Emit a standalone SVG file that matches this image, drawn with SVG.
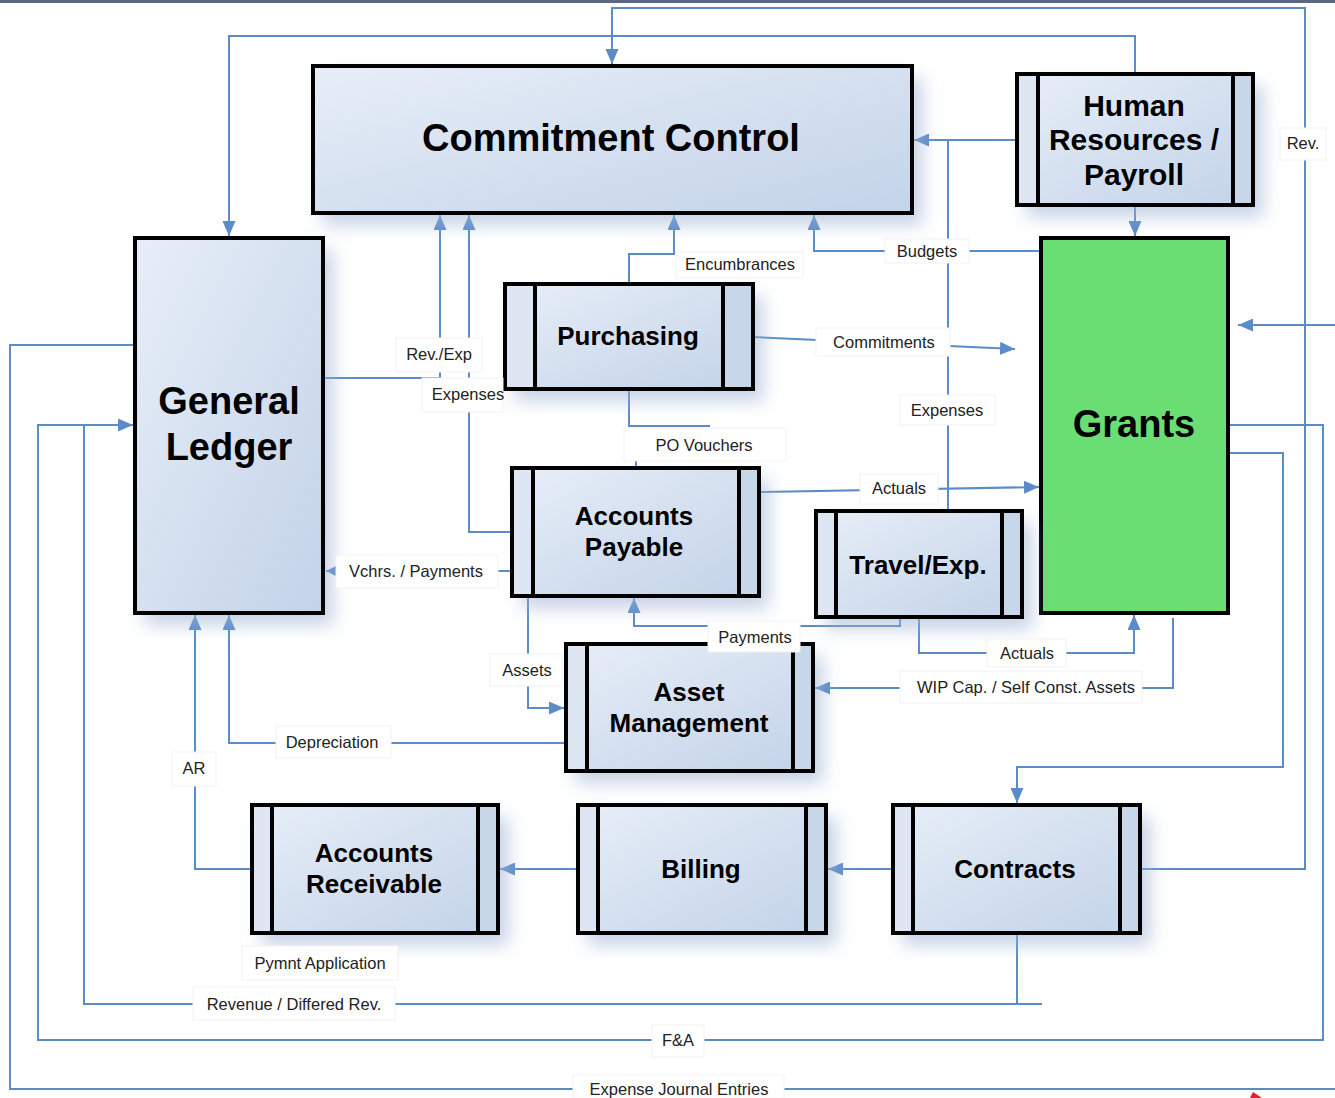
<svg xmlns="http://www.w3.org/2000/svg" width="1335" height="1098" viewBox="0 0 1335 1098">
<defs>
<linearGradient id="gb" x1="0" y1="0" x2="1" y2="1">
<stop offset="0" stop-color="#e7eef8"/>
<stop offset="1" stop-color="#c3d3e8"/>
</linearGradient>
<filter id="sh" x="-20%" y="-20%" width="150%" height="150%">
<feDropShadow dx="10" dy="12" stdDeviation="9" flood-color="#9db3d4" flood-opacity="0.6"/>
</filter>
<marker id="ar" viewBox="0 0 15 13" refX="15" refY="6.5" markerWidth="15" markerHeight="13" markerUnits="userSpaceOnUse" orient="auto">
<path d="M0,0 L15,6.5 L0,13 Z" fill="#5b8cc8"/>
</marker>
<marker id="ars" viewBox="0 0 10 10" refX="10" refY="5" markerWidth="10" markerHeight="10" markerUnits="userSpaceOnUse" orient="auto">
<path d="M0,0 L10,5 L0,10 Z" fill="#5b8cc8"/>
</marker>
</defs>
<style>
.box{fill:url(#gb);filter:url(#sh)}
.edge{fill:none;stroke:#000;stroke-width:4}
.bar{stroke:#000;stroke-width:4}
.sl{fill:#dde6f2}
.sr{fill:#c8d6ea}
.t{font-family:"Liberation Sans",Arial,sans-serif;font-weight:bold;fill:#000;text-anchor:middle}
.c{fill:none;stroke:#5b8cc8;stroke-width:2}
.a{marker-end:url(#ar)}
.lb{fill:#fff;stroke:#f1f1f1;stroke-width:1}
.lt{font-family:"Liberation Sans",Arial,sans-serif;font-size:16.5px;fill:#222;text-anchor:middle}
</style>
<rect x="0" y="0" width="1335" height="1098" fill="#fff"/>
<rect x="0" y="0" width="1335" height="3" fill="#5c6883"/>

<g id="connectors">
<path class="c a" d="M1140,869 H1305 V8 H612 V64"/>
<path class="c a" d="M1135,74 V36 H229 V236"/>
<path class="c a" d="M1017,140 H914"/>
<path class="c" d="M948,511 V140"/>
<path class="c a" d="M1135,205 V236"/>
<path class="c a" d="M1043,290 V251 H814 V215"/>
<path class="c a" d="M629,284 V254 H674 V215"/>
<path class="c a" d="M753,337 L1015,349"/>
<path class="c a" d="M323,378 H440 V215"/>
<path class="c a" d="M512,532 H469 V215"/>
<path class="c" d="M629,389 V426 H710"/>
<path class="c" d="M636,461 V468"/>
<path class="c a" d="M759,492 L1039,487"/>
<path class="c" d="M512,571 H326" marker-end="url(#ars)"/>
<path class="c a" d="M900,617 V626 H634 V598"/>
<path class="c a" d="M919,617 V653 H1134 V615"/>
<path class="c a" d="M1173,618 V688 H815"/>
<path class="c a" d="M528,596 V708 H564"/>
<path class="c a" d="M566,743 H229 V615"/>
<path class="c a" d="M252,869 H195 V615"/>
<path class="c a" d="M578,869 H500"/>
<path class="c a" d="M893,869 H828"/>
<path class="c a" d="M1228,453 H1283 V767 H1017 V803"/>
<path class="c a" d="M1228,425 H1323 V1040 H38 V425 H133"/>
<path class="c" d="M1017,933 V1004"/>
<path class="c" d="M1042,1004 H84 V425"/>
<path class="c a" d="M1335,325 H1238"/>
<path class="c" d="M1335,1089 H10 V345 H143"/>
</g>

<g id="commitment-control">
<rect class="box" x="313" y="66" width="599" height="147"/>
<rect class="edge" x="313" y="66" width="599" height="147"/>
<text class="t" x="611" y="151" font-size="38">Commitment Control</text>
</g>

<g id="human-resources">
<rect class="box" x="1017" y="74" width="236" height="131"/>
<rect class="sl" x="1019" y="76" width="19" height="127"/>
<rect class="sr" x="1233" y="76" width="18" height="127"/>
<line class="bar" x1="1038" y1="74" x2="1038" y2="205"/>
<line class="bar" x1="1233" y1="74" x2="1233" y2="205"/>
<rect class="edge" x="1017" y="74" width="236" height="131"/>
<text class="t" x="1134" y="116" font-size="30">Human</text>
<text class="t" x="1134" y="150" font-size="30">Resources /</text>
<text class="t" x="1134" y="185" font-size="30">Payroll</text>
</g>

<g id="general-ledger">
<rect class="box" x="135" y="238" width="188" height="375"/>
<rect class="edge" x="135" y="238" width="188" height="375"/>
<text class="t" x="229" y="414" font-size="38">General</text>
<text class="t" x="229" y="460" font-size="38">Ledger</text>
</g>

<g id="grants">
<rect x="1041" y="238" width="187" height="375" fill="#6ade73"/>
<rect class="edge" x="1041" y="238" width="187" height="375"/>
<text class="t" x="1134" y="437" font-size="38">Grants</text>
</g>

<g id="purchasing">
<rect class="box" x="505" y="284" width="248" height="105"/>
<rect class="sl" x="507" y="286" width="28" height="101"/>
<rect class="sr" x="723" y="286" width="28" height="101"/>
<line class="bar" x1="535" y1="284" x2="535" y2="389"/>
<line class="bar" x1="723" y1="284" x2="723" y2="389"/>
<rect class="edge" x="505" y="284" width="248" height="105"/>
<text class="t" x="628" y="345" font-size="26">Purchasing</text>
</g>

<g id="accounts-payable">
<rect class="box" x="512" y="468" width="247" height="128"/>
<rect class="sl" x="514" y="470" width="19" height="124"/>
<rect class="sr" x="739" y="470" width="18" height="124"/>
<line class="bar" x1="533" y1="468" x2="533" y2="596"/>
<line class="bar" x1="739" y1="468" x2="739" y2="596"/>
<rect class="edge" x="512" y="468" width="247" height="128"/>
<text class="t" x="634" y="525" font-size="26">Accounts</text>
<text class="t" x="634" y="556" font-size="26">Payable</text>
</g>

<g id="travel-exp">
<rect class="box" x="816" y="511" width="206" height="106"/>
<rect class="sl" x="818" y="513" width="18" height="102"/>
<rect class="sr" x="1002" y="513" width="18" height="102"/>
<line class="bar" x1="836" y1="511" x2="836" y2="617"/>
<line class="bar" x1="1002" y1="511" x2="1002" y2="617"/>
<rect class="edge" x="816" y="511" width="206" height="106"/>
<text class="t" x="918" y="574" font-size="26">Travel/Exp.</text>
</g>

<g id="asset-management">
<rect class="box" x="566" y="644" width="247" height="127"/>
<rect class="sl" x="568" y="646" width="19" height="123"/>
<rect class="sr" x="793" y="646" width="18" height="123"/>
<line class="bar" x1="587" y1="644" x2="587" y2="771"/>
<line class="bar" x1="793" y1="644" x2="793" y2="771"/>
<rect class="edge" x="566" y="644" width="247" height="127"/>
<text class="t" x="689" y="701" font-size="26">Asset</text>
<text class="t" x="689" y="732" font-size="26">Management</text>
</g>

<g id="accounts-receivable">
<rect class="box" x="252" y="805" width="246" height="128"/>
<rect class="sl" x="254" y="807" width="18" height="124"/>
<rect class="sr" x="478" y="807" width="18" height="124"/>
<line class="bar" x1="272" y1="805" x2="272" y2="933"/>
<line class="bar" x1="478" y1="805" x2="478" y2="933"/>
<rect class="edge" x="252" y="805" width="246" height="128"/>
<text class="t" x="374" y="862" font-size="26">Accounts</text>
<text class="t" x="374" y="893" font-size="26">Receivable</text>
</g>

<g id="billing">
<rect class="box" x="578" y="805" width="248" height="128"/>
<rect class="sl" x="580" y="807" width="18" height="124"/>
<rect class="sr" x="806" y="807" width="18" height="124"/>
<line class="bar" x1="598" y1="805" x2="598" y2="933"/>
<line class="bar" x1="806" y1="805" x2="806" y2="933"/>
<rect class="edge" x="578" y="805" width="248" height="128"/>
<text class="t" x="701" y="878" font-size="26">Billing</text>
</g>

<g id="contracts">
<rect class="box" x="893" y="805" width="247" height="128"/>
<rect class="sl" x="895" y="807" width="18" height="124"/>
<rect class="sr" x="1120" y="807" width="18" height="124"/>
<line class="bar" x1="913" y1="805" x2="913" y2="933"/>
<line class="bar" x1="1120" y1="805" x2="1120" y2="933"/>
<rect class="edge" x="893" y="805" width="247" height="128"/>
<text class="t" x="1015" y="878" font-size="26">Contracts</text>
</g>

<g id="labels">
<rect class="lb" x="1280" y="128" width="46" height="32"/><text class="lt" x="1303" y="149">Rev.</text>
<rect class="lb" x="885" y="239" width="84" height="24"/><text class="lt" x="927" y="257">Budgets</text>
<rect class="lb" x="676" y="252" width="127" height="26"/><text class="lt" x="740" y="270">Encumbrances</text>
<rect class="lb" x="816" y="328" width="134" height="28"/><text class="lt" x="884" y="348">Commitments</text>
<rect class="lb" x="396" y="338" width="86" height="34"/><text class="lt" x="439" y="360">Rev./Exp</text>
<rect class="lb" x="422" y="378" width="81" height="34"/><text class="lt" x="468" y="400">Expenses</text>
<rect class="lb" x="624" y="428" width="162" height="33"/><text class="lt" x="704" y="451">PO Vouchers</text>
<rect class="lb" x="900" y="395" width="95" height="30"/><text class="lt" x="947" y="416">Expenses</text>
<rect class="lb" x="860" y="474" width="78" height="30"/><text class="lt" x="899" y="494">Actuals</text>
<rect class="lb" x="336" y="555" width="162" height="33"/><text class="lt" x="416" y="577">Vchrs. / Payments</text>
<rect class="lb" x="708" y="621" width="92" height="31"/><text class="lt" x="755" y="643">Payments</text>
<rect class="lb" x="987" y="639" width="79" height="28"/><text class="lt" x="1027" y="659">Actuals</text>
<rect class="lb" x="900" y="671" width="242" height="32"/><text class="lt" x="1026" y="693">WIP Cap. / Self Const. Assets</text>
<rect class="lb" x="490" y="654" width="72" height="32"/><text class="lt" x="527" y="676">Assets</text>
<rect class="lb" x="276" y="726" width="115" height="32"/><text class="lt" x="332" y="748">Depreciation</text>
<rect class="lb" x="172" y="752" width="44" height="34"/><text class="lt" x="194" y="774">AR</text>
<rect class="lb" x="242" y="946" width="156" height="34"/><text class="lt" x="320" y="969">Pymnt Application</text>
<rect class="lb" x="193" y="987" width="202" height="33"/><text class="lt" x="294" y="1010">Revenue / Differed Rev.</text>
<rect class="lb" x="652" y="1025" width="52" height="32"/><text class="lt" x="678" y="1046">F&amp;A</text>
<rect class="lb" x="573" y="1075" width="211" height="23"/><text class="lt" x="679" y="1095">Expense Journal Entries</text>
</g>

<path d="M1250,1098 L1253,1092 L1262,1098 Z" fill="#e02030"/>
</svg>
